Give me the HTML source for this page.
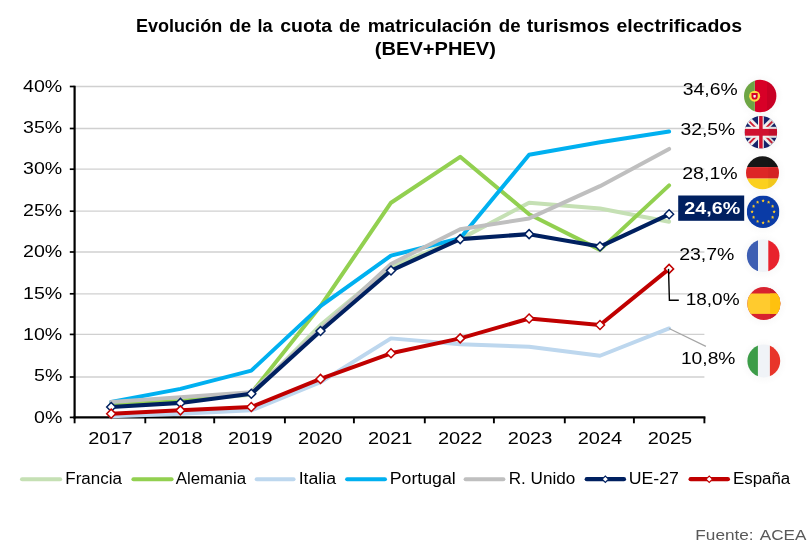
<!DOCTYPE html>
<html lang="es"><head><meta charset="utf-8"><title>Cuota de matriculación de turismos electrificados</title>
<style>
html,body{margin:0;padding:0;background:#fff;}
body{width:812px;height:552px;overflow:hidden;font-family:"Liberation Sans",sans-serif;}
svg{display:block;will-change:transform;}
text{font-family:"Liberation Sans",sans-serif;}
</style></head><body>
<svg width="812" height="552" viewBox="0 0 812 552">
<rect x="0" y="0" width="812" height="552" fill="#ffffff"/>
<defs>
<clipPath id="c-pt"><circle cx="760.2" cy="96.0" r="16.2"/></clipPath>
<clipPath id="c-uk"><circle cx="760.9" cy="132.3" r="16.3"/></clipPath>
<clipPath id="c-de"><circle cx="762.5" cy="172.8" r="16.5"/></clipPath>
<clipPath id="c-eu"><circle cx="763.1" cy="211.8" r="16.3"/></clipPath>
<clipPath id="c-fr"><circle cx="763.2" cy="255.7" r="16.3"/></clipPath>
<clipPath id="c-es"><circle cx="763.8" cy="303.6" r="16.5"/></clipPath>
<clipPath id="c-it"><circle cx="763.8" cy="361.0" r="16.4"/></clipPath>
<radialGradient id="glow" cx="50%" cy="50%" r="50%"><stop offset="0" stop-color="#000" stop-opacity="0.04"/><stop offset="0.6" stop-color="#000" stop-opacity="0.025"/><stop offset="1" stop-color="#000" stop-opacity="0"/></radialGradient>
</defs>
<text x="136.05" y="31.90" font-size="18.67" font-weight="bold" fill="#000" text-anchor="start" textLength="86.10" lengthAdjust="spacingAndGlyphs">Evolución</text>
<text x="229.25" y="31.90" font-size="18.67" font-weight="bold" fill="#000" text-anchor="start" textLength="22.00" lengthAdjust="spacingAndGlyphs">de</text>
<text x="257.55" y="31.90" font-size="18.67" font-weight="bold" fill="#000" text-anchor="start" textLength="15.10" lengthAdjust="spacingAndGlyphs">la</text>
<text x="280.25" y="31.90" font-size="18.67" font-weight="bold" fill="#000" text-anchor="start" textLength="51.90" lengthAdjust="spacingAndGlyphs">cuota</text>
<text x="338.95" y="31.90" font-size="18.67" font-weight="bold" fill="#000" text-anchor="start" textLength="21.40" lengthAdjust="spacingAndGlyphs">de</text>
<text x="367.65" y="31.90" font-size="18.67" font-weight="bold" fill="#000" text-anchor="start" textLength="124.00" lengthAdjust="spacingAndGlyphs">matriculación</text>
<text x="498.75" y="31.90" font-size="18.67" font-weight="bold" fill="#000" text-anchor="start" textLength="21.80" lengthAdjust="spacingAndGlyphs">de</text>
<text x="526.75" y="31.90" font-size="18.67" font-weight="bold" fill="#000" text-anchor="start" textLength="82.90" lengthAdjust="spacingAndGlyphs">turismos</text>
<text x="616.45" y="31.90" font-size="18.67" font-weight="bold" fill="#000" text-anchor="start" textLength="125.70" lengthAdjust="spacingAndGlyphs">electrificados</text>
<text x="374.85" y="55.00" font-size="18.67" font-weight="bold" fill="#000" text-anchor="start" textLength="121.00" lengthAdjust="spacingAndGlyphs">(BEV+PHEV)</text>
<line x1="74.6" y1="377.00" x2="704.4" y2="377.00" stroke="#D0D0D0" stroke-width="1.3"/>
<line x1="74.6" y1="334.40" x2="704.4" y2="334.40" stroke="#D0D0D0" stroke-width="1.3"/>
<line x1="74.6" y1="293.80" x2="704.4" y2="293.80" stroke="#D0D0D0" stroke-width="1.3"/>
<line x1="74.6" y1="252.00" x2="704.4" y2="252.00" stroke="#D0D0D0" stroke-width="1.3"/>
<line x1="74.6" y1="211.20" x2="704.4" y2="211.20" stroke="#D0D0D0" stroke-width="1.3"/>
<line x1="74.6" y1="169.20" x2="704.4" y2="169.20" stroke="#D0D0D0" stroke-width="1.3"/>
<line x1="74.6" y1="128.50" x2="704.4" y2="128.50" stroke="#D0D0D0" stroke-width="1.3"/>
<line x1="74.6" y1="86.50" x2="704.4" y2="86.50" stroke="#D0D0D0" stroke-width="1.3"/>
<line x1="74.6" y1="85.70" x2="74.6" y2="418.40" stroke="#000" stroke-width="2.2"/>
<line x1="73.5" y1="417.40" x2="705.4" y2="417.40" stroke="#000" stroke-width="2.1"/>
<line x1="69.8" y1="417.40" x2="74.6" y2="417.40" stroke="#000" stroke-width="1.7"/>
<line x1="69.8" y1="377.00" x2="74.6" y2="377.00" stroke="#000" stroke-width="1.7"/>
<line x1="69.8" y1="334.40" x2="74.6" y2="334.40" stroke="#000" stroke-width="1.7"/>
<line x1="69.8" y1="293.80" x2="74.6" y2="293.80" stroke="#000" stroke-width="1.7"/>
<line x1="69.8" y1="252.00" x2="74.6" y2="252.00" stroke="#000" stroke-width="1.7"/>
<line x1="69.8" y1="211.20" x2="74.6" y2="211.20" stroke="#000" stroke-width="1.7"/>
<line x1="69.8" y1="169.20" x2="74.6" y2="169.20" stroke="#000" stroke-width="1.7"/>
<line x1="69.8" y1="128.50" x2="74.6" y2="128.50" stroke="#000" stroke-width="1.7"/>
<line x1="69.8" y1="86.50" x2="74.6" y2="86.50" stroke="#000" stroke-width="1.7"/>
<line x1="74.60" y1="417.40" x2="74.60" y2="423.30" stroke="#000" stroke-width="1.9"/>
<line x1="145.30" y1="417.40" x2="145.30" y2="423.30" stroke="#000" stroke-width="1.9"/>
<line x1="214.20" y1="417.40" x2="214.20" y2="423.30" stroke="#000" stroke-width="1.9"/>
<line x1="284.90" y1="417.40" x2="284.90" y2="423.30" stroke="#000" stroke-width="1.9"/>
<line x1="353.90" y1="417.40" x2="353.90" y2="423.30" stroke="#000" stroke-width="1.9"/>
<line x1="424.80" y1="417.40" x2="424.80" y2="423.30" stroke="#000" stroke-width="1.9"/>
<line x1="493.90" y1="417.40" x2="493.90" y2="423.30" stroke="#000" stroke-width="1.9"/>
<line x1="564.80" y1="417.40" x2="564.80" y2="423.30" stroke="#000" stroke-width="1.9"/>
<line x1="633.90" y1="417.40" x2="633.90" y2="423.30" stroke="#000" stroke-width="1.9"/>
<line x1="704.40" y1="417.40" x2="704.40" y2="423.30" stroke="#000" stroke-width="1.9"/>
<polyline points="111.20,403.74 180.40,400.43 251.30,394.64 320.50,325.15 391.00,266.41 460.20,239.11 529.10,202.71 600.00,208.51 669.10,221.74" fill="none" stroke="#C5E0B4" stroke-width="4.0" stroke-linecap="round" stroke-linejoin="round"/>
<polyline points="111.20,404.56 180.40,401.25 251.30,392.98 320.50,306.12 391.00,202.71 460.20,156.80 529.10,214.30 600.00,249.87 669.10,185.34" fill="none" stroke="#92D050" stroke-width="4.0" stroke-linecap="round" stroke-linejoin="round"/>
<polyline points="111.20,416.15 180.40,413.66 251.30,410.35 320.50,382.23 391.00,338.38 460.20,344.17 529.10,346.66 600.00,355.76 669.10,328.46" fill="none" stroke="#BDD7EE" stroke-width="4.0" stroke-linecap="round" stroke-linejoin="round"/>
<polyline points="111.20,402.08 180.40,388.85 251.30,370.65 320.50,306.12 391.00,255.66 460.20,238.29 529.10,154.73 600.00,142.33 669.10,131.57" fill="none" stroke="#00B0F0" stroke-width="4.0" stroke-linecap="round" stroke-linejoin="round"/>
<polyline points="111.20,402.08 180.40,397.12 251.30,392.16 320.50,329.28 391.00,263.93 460.20,229.19 529.10,218.43 600.00,186.17 669.10,148.94" fill="none" stroke="#BFBFBF" stroke-width="4.0" stroke-linecap="round" stroke-linejoin="round"/>
<polyline points="111.20,407.05 180.40,402.91 251.30,393.81 320.50,330.94 391.00,270.55 460.20,239.11 529.10,234.15 600.00,246.56 669.10,214.30" fill="none" stroke="#002060" stroke-width="4.1" stroke-linecap="round" stroke-linejoin="round"/>
<path d="M106.70,407.05 L111.20,402.55 L115.70,407.05 L111.20,411.55 Z" fill="#fff" stroke="#002060" stroke-width="1.5"/>
<path d="M175.90,402.91 L180.40,398.41 L184.90,402.91 L180.40,407.41 Z" fill="#fff" stroke="#002060" stroke-width="1.5"/>
<path d="M246.80,393.81 L251.30,389.31 L255.80,393.81 L251.30,398.31 Z" fill="#fff" stroke="#002060" stroke-width="1.5"/>
<path d="M316.00,330.94 L320.50,326.44 L325.00,330.94 L320.50,335.44 Z" fill="#fff" stroke="#002060" stroke-width="1.5"/>
<path d="M386.50,270.55 L391.00,266.05 L395.50,270.55 L391.00,275.05 Z" fill="#fff" stroke="#002060" stroke-width="1.5"/>
<path d="M455.70,239.11 L460.20,234.61 L464.70,239.11 L460.20,243.61 Z" fill="#fff" stroke="#002060" stroke-width="1.5"/>
<path d="M524.60,234.15 L529.10,229.65 L533.60,234.15 L529.10,238.65 Z" fill="#fff" stroke="#002060" stroke-width="1.5"/>
<path d="M595.50,246.56 L600.00,242.06 L604.50,246.56 L600.00,251.06 Z" fill="#fff" stroke="#002060" stroke-width="1.5"/>
<path d="M664.60,214.30 L669.10,209.80 L673.60,214.30 L669.10,218.80 Z" fill="#fff" stroke="#002060" stroke-width="1.5"/>
<polyline points="111.20,413.66 180.40,410.35 251.30,407.05 320.50,378.92 391.00,353.27 460.20,338.38 529.10,318.53 600.00,324.98 669.10,268.89" fill="none" stroke="#C00000" stroke-width="4.0" stroke-linecap="round" stroke-linejoin="round"/>
<path d="M106.70,413.66 L111.20,409.16 L115.70,413.66 L111.20,418.16 Z" fill="#fff" stroke="#C00000" stroke-width="1.5"/>
<path d="M175.90,410.35 L180.40,405.85 L184.90,410.35 L180.40,414.85 Z" fill="#fff" stroke="#C00000" stroke-width="1.5"/>
<path d="M246.80,407.05 L251.30,402.55 L255.80,407.05 L251.30,411.55 Z" fill="#fff" stroke="#C00000" stroke-width="1.5"/>
<path d="M316.00,378.92 L320.50,374.42 L325.00,378.92 L320.50,383.42 Z" fill="#fff" stroke="#C00000" stroke-width="1.5"/>
<path d="M386.50,353.27 L391.00,348.77 L395.50,353.27 L391.00,357.77 Z" fill="#fff" stroke="#C00000" stroke-width="1.5"/>
<path d="M455.70,338.38 L460.20,333.88 L464.70,338.38 L460.20,342.88 Z" fill="#fff" stroke="#C00000" stroke-width="1.5"/>
<path d="M524.60,318.53 L529.10,314.03 L533.60,318.53 L529.10,323.03 Z" fill="#fff" stroke="#C00000" stroke-width="1.5"/>
<path d="M595.50,324.98 L600.00,320.48 L604.50,324.98 L600.00,329.48 Z" fill="#fff" stroke="#C00000" stroke-width="1.5"/>
<path d="M664.60,268.89 L669.10,264.39 L673.60,268.89 L669.10,273.39 Z" fill="#fff" stroke="#C00000" stroke-width="1.5"/>
<text x="34.00" y="422.60" font-size="16" font-weight="normal" fill="#000" text-anchor="start" textLength="28.30" lengthAdjust="spacingAndGlyphs">0%</text>
<text x="34.00" y="381.24" font-size="16" font-weight="normal" fill="#000" text-anchor="start" textLength="28.30" lengthAdjust="spacingAndGlyphs">5%</text>
<text x="23.10" y="339.87" font-size="16" font-weight="normal" fill="#000" text-anchor="start" textLength="39.20" lengthAdjust="spacingAndGlyphs">10%</text>
<text x="23.10" y="298.51" font-size="16" font-weight="normal" fill="#000" text-anchor="start" textLength="39.20" lengthAdjust="spacingAndGlyphs">15%</text>
<text x="23.10" y="257.15" font-size="16" font-weight="normal" fill="#000" text-anchor="start" textLength="39.20" lengthAdjust="spacingAndGlyphs">20%</text>
<text x="23.10" y="215.79" font-size="16" font-weight="normal" fill="#000" text-anchor="start" textLength="39.20" lengthAdjust="spacingAndGlyphs">25%</text>
<text x="23.10" y="174.42" font-size="16" font-weight="normal" fill="#000" text-anchor="start" textLength="39.20" lengthAdjust="spacingAndGlyphs">30%</text>
<text x="23.10" y="133.06" font-size="16" font-weight="normal" fill="#000" text-anchor="start" textLength="39.20" lengthAdjust="spacingAndGlyphs">35%</text>
<text x="23.10" y="91.70" font-size="16" font-weight="normal" fill="#000" text-anchor="start" textLength="39.20" lengthAdjust="spacingAndGlyphs">40%</text>
<text x="88.25" y="444.10" font-size="16" font-weight="normal" fill="#000" text-anchor="start" textLength="44.40" lengthAdjust="spacingAndGlyphs">2017</text>
<text x="158.18" y="444.10" font-size="16" font-weight="normal" fill="#000" text-anchor="start" textLength="44.40" lengthAdjust="spacingAndGlyphs">2018</text>
<text x="228.11" y="444.10" font-size="16" font-weight="normal" fill="#000" text-anchor="start" textLength="44.40" lengthAdjust="spacingAndGlyphs">2019</text>
<text x="298.04" y="444.10" font-size="16" font-weight="normal" fill="#000" text-anchor="start" textLength="44.40" lengthAdjust="spacingAndGlyphs">2020</text>
<text x="367.97" y="444.10" font-size="16" font-weight="normal" fill="#000" text-anchor="start" textLength="44.40" lengthAdjust="spacingAndGlyphs">2021</text>
<text x="437.90" y="444.10" font-size="16" font-weight="normal" fill="#000" text-anchor="start" textLength="44.40" lengthAdjust="spacingAndGlyphs">2022</text>
<text x="507.83" y="444.10" font-size="16" font-weight="normal" fill="#000" text-anchor="start" textLength="44.40" lengthAdjust="spacingAndGlyphs">2023</text>
<text x="577.76" y="444.10" font-size="16" font-weight="normal" fill="#000" text-anchor="start" textLength="44.40" lengthAdjust="spacingAndGlyphs">2024</text>
<text x="647.69" y="444.10" font-size="16" font-weight="normal" fill="#000" text-anchor="start" textLength="44.40" lengthAdjust="spacingAndGlyphs">2025</text>
<polyline points="668.50,268.89 669.40,300.2 678.8,300.2" fill="none" stroke="#000" stroke-width="1.4"/>
<line x1="669.10" y1="328.46" x2="705.9" y2="346.4" stroke="#A6A6A6" stroke-width="1.2"/>
<text x="682.85" y="94.90" font-size="16" font-weight="normal" fill="#000" text-anchor="start" textLength="54.80" lengthAdjust="spacingAndGlyphs">34,6%</text>
<text x="680.45" y="134.60" font-size="16" font-weight="normal" fill="#000" text-anchor="start" textLength="54.80" lengthAdjust="spacingAndGlyphs">32,5%</text>
<text x="682.25" y="179.00" font-size="16" font-weight="normal" fill="#000" text-anchor="start" textLength="55.40" lengthAdjust="spacingAndGlyphs">28,1%</text>
<rect x="678.2" y="195.5" width="66.0" height="25.3" fill="#002060"/>
<text x="684.35" y="214.20" font-size="16" font-weight="bold" fill="#fff" text-anchor="start" textLength="55.80" lengthAdjust="spacingAndGlyphs">24,6%</text>
<text x="679.15" y="260.00" font-size="16" font-weight="normal" fill="#000" text-anchor="start" textLength="55.30" lengthAdjust="spacingAndGlyphs">23,7%</text>
<text x="685.65" y="304.90" font-size="16" font-weight="normal" fill="#000" text-anchor="start" textLength="53.90" lengthAdjust="spacingAndGlyphs">18,0%</text>
<text x="680.95" y="363.60" font-size="16" font-weight="normal" fill="#000" text-anchor="start" textLength="54.50" lengthAdjust="spacingAndGlyphs">10,8%</text>
<circle cx="760.2" cy="96.5" r="23.2" fill="url(#glow)"/>
<circle cx="760.9" cy="132.8" r="23.3" fill="url(#glow)"/>
<circle cx="762.5" cy="173.3" r="23.5" fill="url(#glow)"/>
<circle cx="763.1" cy="212.3" r="23.3" fill="url(#glow)"/>
<circle cx="763.2" cy="256.2" r="23.3" fill="url(#glow)"/>
<circle cx="763.8" cy="304.1" r="23.5" fill="url(#glow)"/>
<circle cx="763.8" cy="361.5" r="23.4" fill="url(#glow)"/>
<g clip-path="url(#c-pt)">
<rect x="754.8" y="78.8" width="22.60" height="34.4" fill="#D80027"/>
<rect x="743.0" y="78.8" width="11.80" height="34.4" fill="#6DA544"/>
<rect x="767.00" y="79.80" width="9.40" height="32.40" fill="#000" fill-opacity="0.07"/>
<circle cx="754.6" cy="96.2" r="5.5" fill="#FFDA44"/>
<path d="M751.5,93.1 h6.2 v3.4 a3.1,3.1 0 0 1 -6.2,0 Z" fill="#D80027"/>
<path d="M753.4,95.0 h2.4 v1.5 a1.2,1.2 0 0 1 -2.4,0 Z" fill="#F0F0F0"/>
</g>
<g clip-path="url(#c-uk)">
<rect x="744.6" y="116.00000000000001" width="32.6" height="32.6" fill="#15236B"/>
<line x1="744.6" y1="116.00000000000001" x2="777.1999999999999" y2="148.60000000000002" stroke="#F0F0F0" stroke-width="6.2"/>
<line x1="744.6" y1="148.60000000000002" x2="777.1999999999999" y2="116.00000000000001" stroke="#F0F0F0" stroke-width="6.2"/>
<line x1="756.31" y1="128.41" x2="749.52" y2="121.62" stroke="#CF1F36" stroke-width="1.9"/>
<line x1="765.49" y1="128.41" x2="772.28" y2="121.62" stroke="#CF1F36" stroke-width="1.9"/>
<line x1="756.31" y1="136.19" x2="749.52" y2="142.98" stroke="#CF1F36" stroke-width="1.9"/>
<line x1="765.49" y1="136.19" x2="772.28" y2="142.98" stroke="#CF1F36" stroke-width="1.9"/>
<rect x="758.0" y="116.00000000000001" width="5.8" height="32.6" fill="#F0F0F0"/>
<rect x="744.6" y="126.80000000000001" width="32.6" height="11.0" fill="#F0F0F0"/>
<rect x="759.15" y="116.00000000000001" width="3.5" height="32.6" fill="#D0112F"/>
<rect x="744.6" y="128.9" width="32.6" height="6.8" fill="#D0112F"/>
<rect x="768.72" y="116.00" width="8.48" height="32.60" fill="#000" fill-opacity="0.07"/>
</g>
<g clip-path="url(#c-de)">
<rect x="745.0" y="155.3" width="35.0" height="11.80" fill="#161616"/>
<rect x="745.0" y="167.1" width="35.0" height="11.50" fill="#DD2626"/>
<rect x="745.0" y="178.6" width="35.0" height="11.70" fill="#FBD01E"/>
<rect x="768.11" y="156.30" width="10.89" height="33.00" fill="#000" fill-opacity="0.04"/>
</g>
<g clip-path="url(#c-eu)">
<rect x="746.8000000000001" y="195.5" width="32.6" height="32.6" fill="#0A3BA6"/>
<polygon points="763.10,199.10 763.60,200.11 764.72,200.27 763.91,201.06 764.10,202.18 763.10,201.65 762.10,202.18 762.29,201.06 761.48,200.27 762.60,200.11" fill="#F5C62C"/>
<polygon points="768.60,200.57 769.10,201.59 770.22,201.75 769.41,202.54 769.60,203.65 768.60,203.12 767.60,203.65 767.79,202.54 766.98,201.75 768.10,201.59" fill="#F5C62C"/>
<polygon points="772.63,204.60 773.13,205.61 774.24,205.77 773.43,206.56 773.63,207.68 772.63,207.15 771.63,207.68 771.82,206.56 771.01,205.77 772.13,205.61" fill="#F5C62C"/>
<polygon points="774.10,210.10 774.60,211.11 775.72,211.27 774.91,212.06 775.10,213.18 774.10,212.65 773.10,213.18 773.29,212.06 772.48,211.27 773.60,211.11" fill="#F5C62C"/>
<polygon points="772.63,215.60 773.13,216.61 774.24,216.77 773.43,217.56 773.63,218.68 772.63,218.15 771.63,218.68 771.82,217.56 771.01,216.77 772.13,216.61" fill="#F5C62C"/>
<polygon points="768.60,219.63 769.10,220.64 770.22,220.80 769.41,221.59 769.60,222.70 768.60,222.18 767.60,222.70 767.79,221.59 766.98,220.80 768.10,220.64" fill="#F5C62C"/>
<polygon points="763.10,221.10 763.60,222.11 764.72,222.27 763.91,223.06 764.10,224.18 763.10,223.65 762.10,224.18 762.29,223.06 761.48,222.27 762.60,222.11" fill="#F5C62C"/>
<polygon points="757.60,219.63 758.10,220.64 759.22,220.80 758.41,221.59 758.60,222.70 757.60,222.18 756.60,222.70 756.79,221.59 755.98,220.80 757.10,220.64" fill="#F5C62C"/>
<polygon points="753.57,215.60 754.07,216.61 755.19,216.77 754.38,217.56 754.57,218.68 753.57,218.15 752.57,218.68 752.77,217.56 751.96,216.77 753.07,216.61" fill="#F5C62C"/>
<polygon points="752.10,210.10 752.60,211.11 753.72,211.27 752.91,212.06 753.10,213.18 752.10,212.65 751.10,213.18 751.29,212.06 750.48,211.27 751.60,211.11" fill="#F5C62C"/>
<polygon points="753.57,204.60 754.07,205.61 755.19,205.77 754.38,206.56 754.57,207.68 753.57,207.15 752.57,207.68 752.77,206.56 751.96,205.77 753.07,205.61" fill="#F5C62C"/>
<polygon points="757.60,200.57 758.10,201.59 759.22,201.75 758.41,202.54 758.60,203.65 757.60,203.12 756.60,203.65 756.79,202.54 755.98,201.75 757.10,201.59" fill="#F5C62C"/>
</g>
<g clip-path="url(#c-fr)">
<rect x="758.0" y="238.39999999999998" width="10.30" height="34.6" fill="#F0F3F7"/>
<rect x="745.9000000000001" y="238.39999999999998" width="12.10" height="34.6" fill="#3D5EB3"/>
<rect x="768.3" y="238.39999999999998" width="12.20" height="34.6" fill="#E8222D"/>
</g>
<g clip-path="url(#c-es)">
<rect x="746.3" y="286.1" width="35.0" height="35.0" fill="#D8222F"/>
<rect x="770.1" y="286.1" width="11.20" height="35.0" fill="#C81D2B"/>
<rect x="746.3" y="293.5" width="35.0" height="20.40" fill="#FFCB2E"/>
<rect x="770.1" y="293.5" width="11.20" height="20.40" fill="#FFC10E"/>
</g>
<g clip-path="url(#c-it)">
<rect x="757.9" y="343.6" width="12.00" height="34.8" fill="#F0F3F7"/>
<rect x="746.4" y="343.6" width="11.50" height="34.8" fill="#3C9C48"/>
<rect x="769.9" y="343.6" width="11.30" height="34.8" fill="#E8352A"/>
</g>
<line x1="22.05" y1="479.2" x2="60.15" y2="479.2" stroke="#C5E0B4" stroke-width="4.1" stroke-linecap="round"/>
<text x="65.35" y="483.90" font-size="16" font-weight="normal" fill="#000" text-anchor="start" textLength="56.60" lengthAdjust="spacingAndGlyphs">Francia</text>
<line x1="133.45" y1="479.2" x2="171.55" y2="479.2" stroke="#92D050" stroke-width="4.1" stroke-linecap="round"/>
<text x="175.75" y="483.90" font-size="16" font-weight="normal" fill="#000" text-anchor="start" textLength="70.30" lengthAdjust="spacingAndGlyphs">Alemania</text>
<line x1="256.75" y1="479.2" x2="293.55" y2="479.2" stroke="#BDD7EE" stroke-width="4.1" stroke-linecap="round"/>
<text x="298.65" y="483.90" font-size="16" font-weight="normal" fill="#000" text-anchor="start" textLength="37.40" lengthAdjust="spacingAndGlyphs">Italia</text>
<line x1="347.15" y1="479.2" x2="384.95" y2="479.2" stroke="#00B0F0" stroke-width="4.1" stroke-linecap="round"/>
<text x="389.75" y="483.90" font-size="16" font-weight="normal" fill="#000" text-anchor="start" textLength="66.00" lengthAdjust="spacingAndGlyphs">Portugal</text>
<line x1="465.65" y1="479.2" x2="503.35" y2="479.2" stroke="#BFBFBF" stroke-width="4.1" stroke-linecap="round"/>
<text x="508.75" y="483.90" font-size="16" font-weight="normal" fill="#000" text-anchor="start" textLength="66.60" lengthAdjust="spacingAndGlyphs">R. Unido</text>
<line x1="586.75" y1="479.2" x2="623.95" y2="479.2" stroke="#002060" stroke-width="4.3" stroke-linecap="round"/>
<path d="M602.15,479.2 L605.35,476.0 L608.55,479.2 L605.35,482.4 Z" fill="#fff" stroke="#002060" stroke-width="1.1"/>
<text x="628.65" y="483.90" font-size="16" font-weight="normal" fill="#000" text-anchor="start" textLength="50.20" lengthAdjust="spacingAndGlyphs">UE-27</text>
<line x1="690.65" y1="479.2" x2="727.85" y2="479.2" stroke="#C00000" stroke-width="4.3" stroke-linecap="round"/>
<path d="M706.05,479.2 L709.25,476.0 L712.45,479.2 L709.25,482.4 Z" fill="#fff" stroke="#C00000" stroke-width="1.1"/>
<text x="732.95" y="483.90" font-size="16" font-weight="normal" fill="#000" text-anchor="start" textLength="57.30" lengthAdjust="spacingAndGlyphs">España</text>
<text x="695.35" y="539.90" font-size="15.5" font-weight="normal" fill="#595959" text-anchor="start" textLength="58.30" lengthAdjust="spacingAndGlyphs">Fuente:</text>
<text x="759.85" y="539.90" font-size="15.5" font-weight="normal" fill="#595959" text-anchor="start" textLength="46.60" lengthAdjust="spacingAndGlyphs">ACEA</text>
</svg>
</body></html>
